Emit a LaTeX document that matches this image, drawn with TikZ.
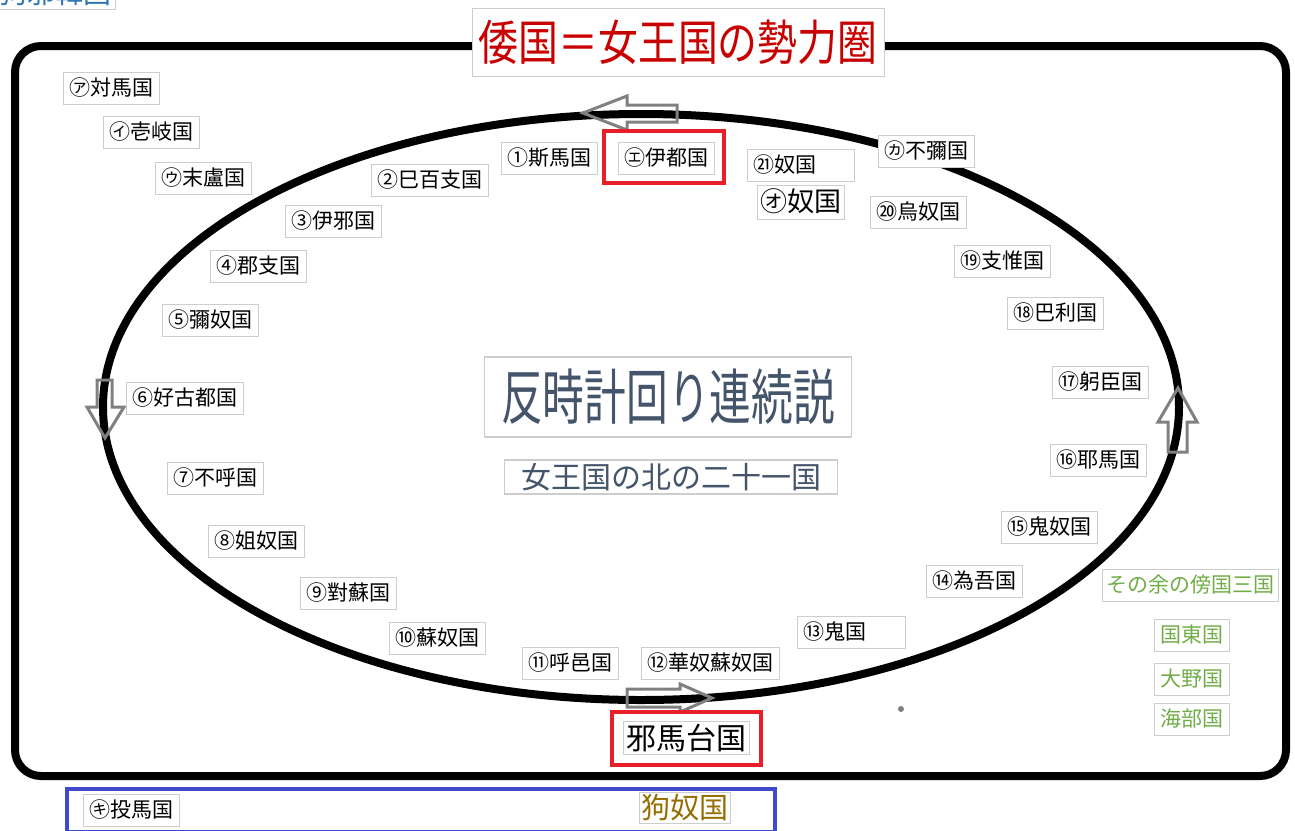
\documentclass[tikz,border=0pt]{standalone}
\usepackage{fontspec}
\setmainfont{Noto Sans CJK JP}
\newfontfamily\jp{Noto Sans CJK JP}
\definecolor{titlered}{RGB}{200,0,0}
\definecolor{boxred}{RGB}{232,30,40}
\definecolor{slate}{RGB}{68,84,106}
\definecolor{leafgreen}{RGB}{112,173,71}
\definecolor{bandblue}{RGB}{64,72,204}
\definecolor{gold}{RGB}{150,110,0}
\definecolor{skyblue}{RGB}{46,117,182}
\definecolor{arrowgray}{RGB}{128,128,128}
\definecolor{lightline}{RGB}{205,205,205}
\tikzset{
  lbl/.style={draw=lightline, line width=1pt, fill=white, inner xsep=6pt, inner ysep=5pt, font=\jp\fontsize{21}{21}\selectfont, text height=18pt, text depth=4pt},
  greenlbl/.style={lbl, text=leafgreen},
  hollowarrow/.style={draw=arrowgray, line width=3pt, line join=miter},
  redframe/.style={draw=boxred, line width=4pt, inner sep=5pt},
}
\begin{document}
\begin{tikzpicture}[x=1pt,y=-1pt]
\useasboundingbox (0,0) rectangle (1295,830);
\fill[white] (0,0) rectangle (1295,830);
% partial top-left label (cut off by the page edge, as in the reference)
\node[draw=lightline, fill=white, text=skyblue, font=\jp\fontsize{28}{28}\selectfont, inner sep=3pt, anchor=south east] (kuya) at (115,9) {狗邪韓国};
% outer rounded frame
\draw[line width=8pt, rounded corners=26pt] (15,46) rectangle (1286,776);
% title
\node[draw=lightline, line width=1pt, fill=white, text=titlered, minimum width=412pt, minimum height=68pt, inner sep=2pt] (title) at (678,42) {\scalebox{0.95}[1.15]{\jp\fontsize{42}{42}\selectfont 倭国＝女王国の勢力圏}};
% ellipse
\draw[line width=8pt] (641,407) ellipse [x radius=538, y radius=293];
% hollow direction arrows
\draw[hollowarrow] (583,113) -- (627,96) -- (627,105) -- (677,105) -- (677,122) -- (627,122) -- (627,130) -- cycle;
\draw[hollowarrow] (105,438) -- (87,407) -- (97,407) -- (97,380) -- (112,380) -- (112,407) -- (124,407) -- cycle;
\draw[hollowarrow] (1178,388) -- (1197,422) -- (1187,422) -- (1187,452) -- (1168,452) -- (1168,422) -- (1158,422) -- cycle;
\draw[hollowarrow] (712,698) -- (680,684) -- (680,689) -- (627,689) -- (627,707) -- (680,707) -- (680,712) -- cycle;
% outside countries
\node[lbl] (a) at (111,88) {㋐対馬国};
\node[lbl] (i) at (151,132) {㋑壱岐国};
\node[lbl] (u) at (203,178) {㋒末盧国};
% numbered countries
\node[lbl] (n1) at (549,158) {①斯馬国};
\node[lbl] (n2) at (430,180) {②巳百支国};
\node[lbl] (n3) at (333,221) {③伊邪国};
\node[lbl] (n4) at (258,266) {④郡支国};
\node[lbl] (n5) at (210,320) {⑤彌奴国};
\node[lbl] (n6) at (185,398) {⑥好古都国};
\node[lbl] (n7) at (215,478) {⑦不呼国};
\node[lbl] (n8) at (256,541) {⑧姐奴国};
\node[lbl] (n9) at (348,593) {⑨對蘇国};
\node[lbl] (n10) at (437,638) {⑩蘇奴国};
\node[lbl] (n11) at (570,663) {⑪呼邑国};
\node[lbl] (n12) at (710,663) {⑫華奴蘇奴国};
\node[lbl, align=left, text width=96pt] (n13) at (851,632) {⑬鬼国};
\node[lbl] (n14) at (974,581) {⑭為吾国};
\node[lbl] (n15) at (1049,527) {⑮鬼奴国};
\node[lbl] (n16) at (1098,460) {⑯耶馬国};
\node[lbl] (n17) at (1100,382) {⑰躬臣国};
\node[lbl] (n18) at (1055,313) {⑱巴利国};
\node[lbl] (n19) at (1002,261) {⑲支惟国};
\node[lbl] (n20) at (918,212) {⑳烏奴国};
\node[lbl, align=left, text width=95pt] (n21) at (801,165) {㉑奴国};
\node[lbl] (ka) at (926,151) {㋕不彌国};
% Ito-koku (red frame)
\node[redframe, minimum width=120pt, minimum height=52pt] (itoframe) at (664,157) {};
\node[lbl] (ito) at (666,158) {㋓伊都国};
% O-na-koku
\node[lbl, font=\jp\fontsize{27}{27}\selectfont, text height=23pt, text depth=5pt, inner sep=3pt] (ona) at (801,202) {㋔奴国};
% centre titles
\node[draw=lightline, line width=1.5pt, fill=white, text=slate, minimum width=367pt, minimum height=80pt, inner sep=0pt] (theory) at (668,397) {\scalebox{0.97}[1.4]{\jp\fontsize{43}{43}\selectfont 反時計回り連続説}};
\node[draw=lightline, line width=1.2pt, fill=white, text=slate, font=\jp\fontsize{30}{30}\selectfont, minimum width=333pt, minimum height=34pt, inner sep=0pt] (north) at (671,477) {女王国の北の二十一国};
% Yamatai
\node[redframe, minimum width=149pt, minimum height=53pt] (yamaframe) at (686,738) {};
\node[draw=lightline, line width=1pt, fill=white, font=\jp\fontsize{30}{30}\selectfont, inner sep=3pt] (yama) at (686,738) {邪馬台国};
% remaining three
\node[greenlbl, font=\jp\fontsize{21}{21}\selectfont, inner xsep=4pt] (rest) at (1190,585) {その余の傍国三国};
\node[greenlbl] (kunisaki) at (1192,635) {国東国};
\node[greenlbl] (ono) at (1192,679) {大野国};
\node[greenlbl] (ama) at (1192,719) {海部国};
% dot
\fill[arrowgray] (901,709) circle (3pt);
% bottom band
\draw[bandblue, line width=4pt] (67,789) rectangle (775,832);
\node[lbl] (ki) at (131,810) {㋖投馬国};
\node[draw=lightline, line width=1pt, fill=white, text=gold, font=\jp\fontsize{29}{29}\selectfont, inner sep=2pt] (kuna) at (685,808) {狗奴国};
\end{tikzpicture}
\end{document}
